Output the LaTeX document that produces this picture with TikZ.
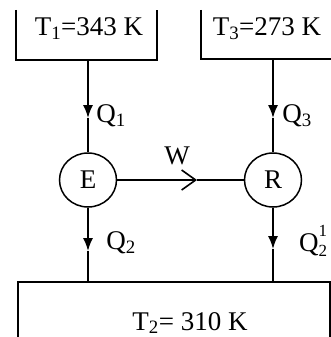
\documentclass[tikz,border=0pt]{standalone}
\usepackage{fontspec}
\setmainfont{Liberation Serif}
\usetikzlibrary{arrows.meta, shapes.geometric}
\tikzset{vertex/.style = {shape = ellipse, draw, line width = 1.5pt, minimum width = 57pt, minimum height = 54pt, inner sep = 0pt}}
\tikzset{edge/.style = {-, line width = 1.6pt}}
\tikzset{flow/.style = {edge, -{Latex[length = 13pt, width = 10pt]}}}
\tikzset{work/.style = {edge, -{Straight Barb[length = 14pt, width = 20pt]}}}
\newcommand{\smallidx}[1]{{\fontsize{17}{17}\selectfont #1}}

\begin{document}
\begin{tikzpicture}[x = 1pt, y = -1pt, font = \fontsize{27}{32}\selectfont]
			\useasboundingbox (0, 0) rectangle (331, 337);

			% reservoirs
			\draw[edge] (16, 10) -- (16, 60) -- (157, 60) -- (157, 10);
			\draw[edge] (201, 10) -- (201, 59) -- (331, 59);
			\draw[edge] (18, 337) -- (18, 282) -- (330, 282) -- (330, 337);

			\node (t1) at (89, 29) {T\textsubscript{1}=343 K};
			\node (t3) at (267, 29) {T\textsubscript{3}=273 K};
			\node (t2) at (190, 323) {T\textsubscript{2}= 310 K};

			\node[vertex] (e) at (88, 180) {E};
			\node[vertex] (r) at (273, 180) {R};

			\coordinate (a1) at (88, 60);
			\coordinate (q1) at (88, 118);
			\coordinate (a3) at (273, 59);
			\coordinate (q3) at (273, 118);
			\coordinate (q2) at (88, 251);
			\coordinate (b2) at (88, 282);
			\coordinate (q21) at (273, 249);
			\coordinate (b21) at (273, 282);
			\coordinate (w) at (197, 180);

			\draw[flow] (a1) to (q1);
			\draw[edge] (q1) to (e);
			\draw[flow] (a3) to (q3);
			\draw[edge] (q3) to (r);
			\draw[flow] (e) to (q2);
			\draw[edge] (q2) to (b2);
			\draw[flow] (r) to (q21);
			\draw[edge] (q21) to (b21);
			\draw[work] (e) to (w);
			\draw[edge] (w) to (r);

			\node (lq1) at (111, 116) {Q\textsubscript{1}};
			\node (lq3) at (297, 116) {Q\textsubscript{3}};
			\node (lq2) at (121, 243) {Q\textsubscript{2}};
			\node (lq21) at (313, 241) {Q\rlap{\raisebox{0.55em}{\smallidx{1}}}\raisebox{-0.2em}{\smallidx{2}}};
			\node (lw) at (177, 156) {W};
		\end{tikzpicture}
\end{document}
